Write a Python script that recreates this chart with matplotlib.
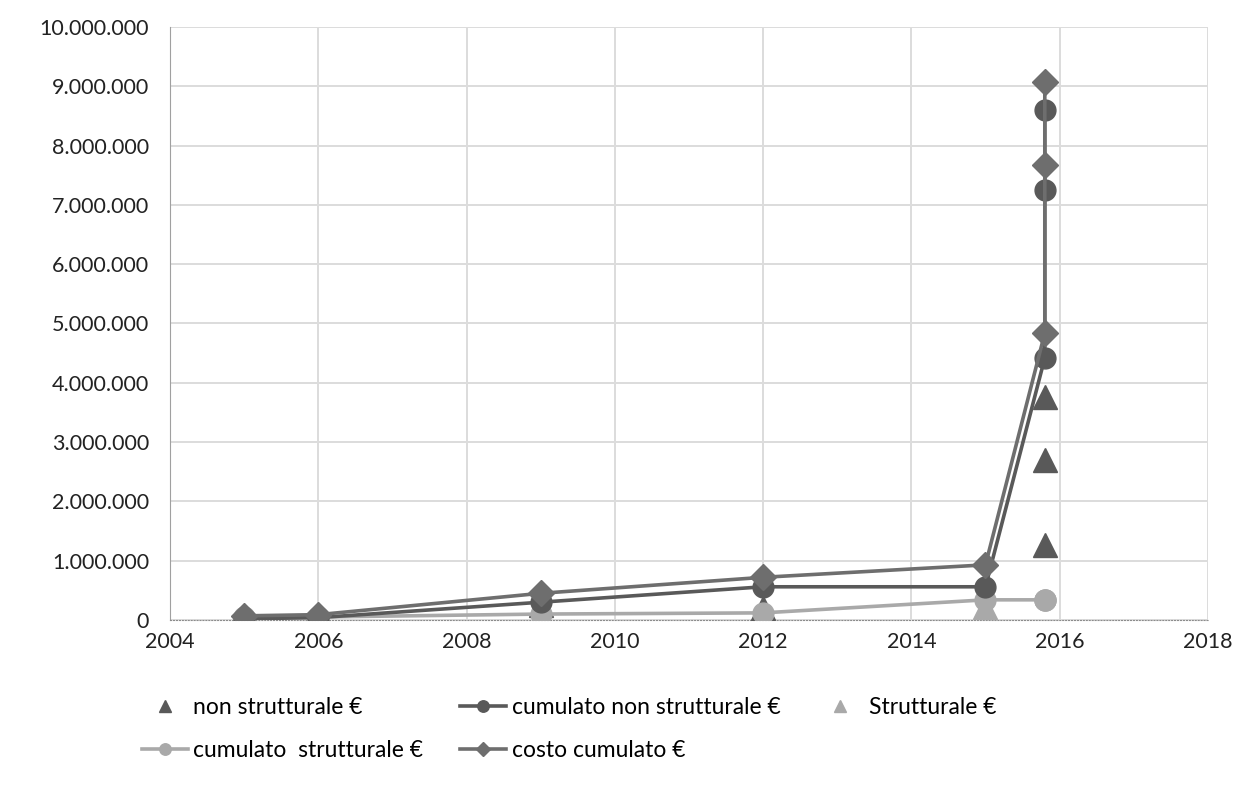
import matplotlib
matplotlib.use("Agg")

import numpy as np
import matplotlib.pyplot as plt
from matplotlib.ticker import FuncFormatter, MultipleLocator

# Yearly interventions and running totals (euro)
anni = [2005, 2006, 2009, 2012, 2015, 2015.8, 2015.8, 2015.8]
non_strutturale = [20000, 20000, 260000, 200000, np.nan, 3760000, 2700000, 1260000]
cumulato_non_strutturale = [20000, 40000, 300000, 560000, 560000, 4420000, 7250000, 8600000]
strutturale = [50000, 0, 50000, np.nan, 220000, np.nan, np.nan, np.nan]
cumulato_strutturale = [50000, 50000, 100000, 120000, 340000, 340000, 340000, 340000]
costo_cumulato = [70000, 90000, 450000, 720000, 930000, 4840000, 7670000, 9070000]

X_TICKS = [2004, 2006, 2008, 2010, 2012, 2014, 2016, 2018]

DARK = "#595959"
MID = "#6e6e6e"
LIGHT = "#a9a9a9"
GRID = "#dcdcdc"

plt.rcParams["font.family"] = ["Lato", "DejaVu Sans"]

fig = plt.figure(figsize=(12.53, 7.85), dpi=100, facecolor="white")
ax = fig.add_axes([0.1357, 0.2102, 0.8283, 0.7554])

ax.plot(anni, non_strutturale, ls="none", marker="^", ms=17,
        color=DARK, mec=DARK, label="non strutturale €", zorder=3)
ax.plot(anni, cumulato_non_strutturale, ls="-", lw=2.6, marker="o", ms=15,
        color=DARK, mec=DARK, label="cumulato non strutturale €", zorder=4)
ax.plot(anni, strutturale, ls="none", marker="^", ms=17,
        color=LIGHT, mec=LIGHT, label="Strutturale €", zorder=3)
ax.plot(anni, cumulato_strutturale, ls="-", lw=2.6, marker="o", ms=15,
        color=LIGHT, mec=LIGHT, label="cumulato  strutturale €", zorder=3)
ax.plot(anni, costo_cumulato, ls="-", lw=2.6, marker="D", ms=13,
        color=MID, mec=MID, label="costo cumulato €", zorder=5)

ax.set_xlim(2004, 2018)
ax.set_ylim(0, 10000000)
ax.set_xticks(X_TICKS)
ax.yaxis.set_major_locator(MultipleLocator(1000000))
ax.yaxis.set_major_formatter(FuncFormatter(lambda v, _: f"{v:,.0f}".replace(",", ".")))

ax.grid(True, color=GRID, lw=1.4)
ax.set_axisbelow(True)
for side in ("top", "right"):
    ax.spines[side].set_visible(False)
ax.spines["left"].set_color("#a0a0a0")
ax.spines["bottom"].set_color("#8c8c8c")
ax.spines["bottom"].set_linestyle(":")
ax.tick_params(length=0, labelsize=15.5, colors="#222222")
ax.tick_params(axis="y", pad=15)
ax.tick_params(axis="x", pad=9)

# two-row legend under the plot, filled row by row
h, l = ax.get_legend_handles_labels()
order = [0, 3, 1, 4, 2]
ax.legend([h[i] for i in order], [l[i] for i in order], ncol=3,
          loc="upper left", bbox_to_anchor=(-0.047, -0.095), frameon=False,
          fontsize=16.5, handlelength=2.0, handletextpad=0.25,
          columnspacing=1.6, labelspacing=0.95, markerscale=0.55)

fig.savefig("out.png", dpi=100, facecolor="white")
